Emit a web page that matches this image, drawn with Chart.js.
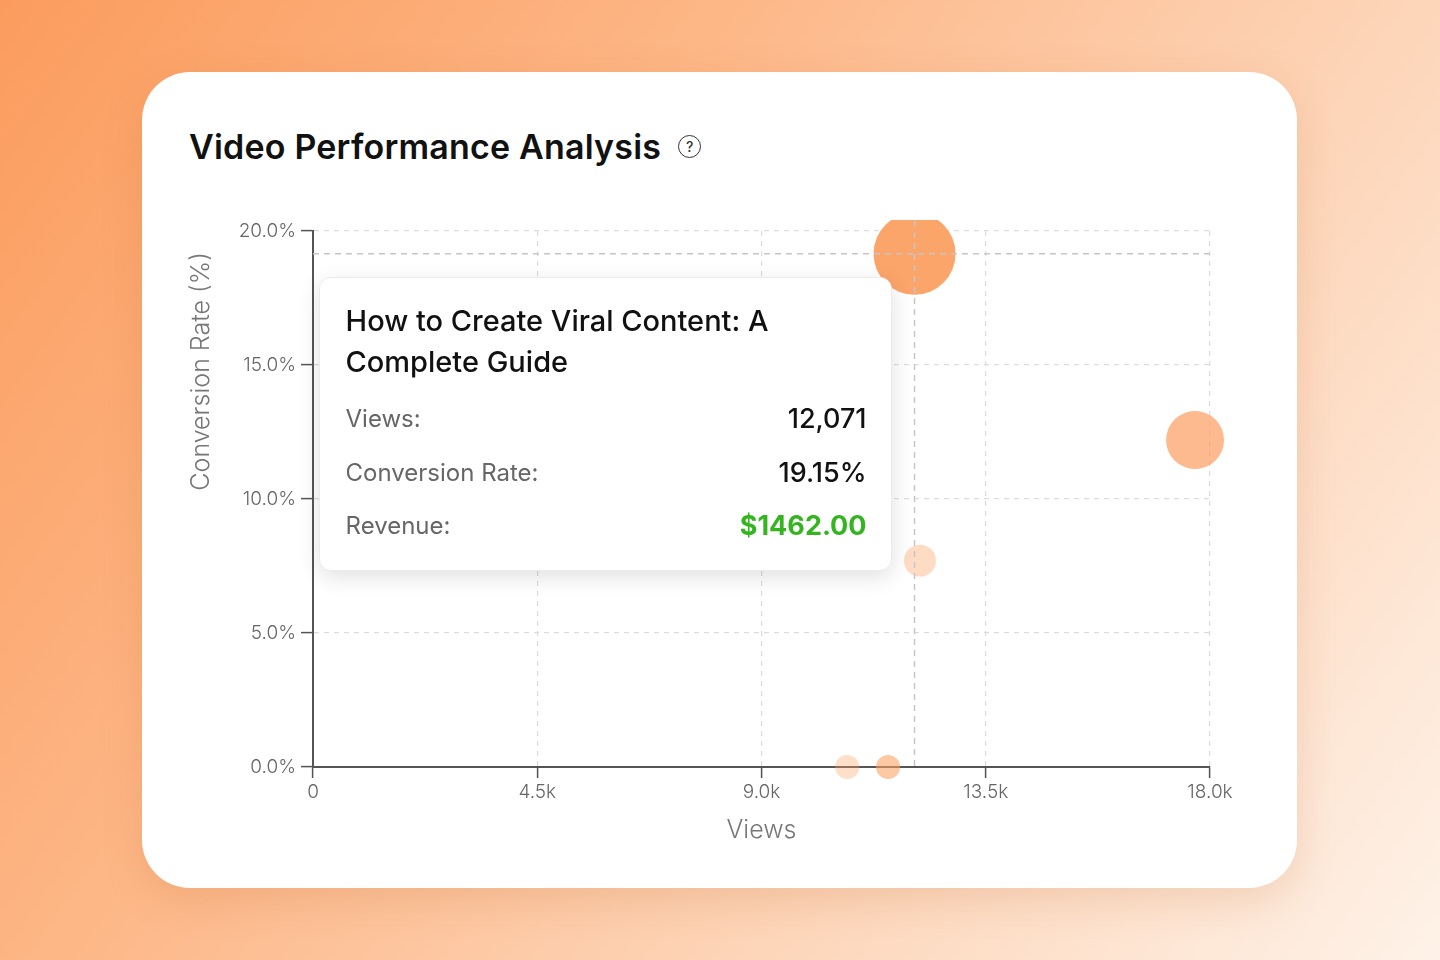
<!DOCTYPE html>
<html>
<head>
<meta charset="utf-8">
<title>Video Performance Analysis</title>
<script src="https://cdn.jsdelivr.net/npm/chart.js@4.4.0/dist/chart.umd.min.js"></script>
<style>
  html, body { margin: 0; padding: 0; width: 1440px; height: 960px; overflow: hidden; }
  body {
    font-family: Inter, "Noto Sans", sans-serif;
    background: linear-gradient(125deg, #fb9c5e 0%, #fdb787 35%, #fdd3b5 65%, #fef2e8 100%);
    position: relative;
  }
  .card {
    position: absolute; left: 142px; top: 72px; width: 1155px; height: 816px;
    background: #fff; border-radius: 48px;
    box-shadow: 0 12px 40px rgba(190, 100, 40, 0.18);
  }
  .card h1 {
    position: absolute; left: 47px; top: 54px; margin: 0;
    font-size: 34px; font-weight: 600; color: #111; letter-spacing: 0.2px;
    display: flex; align-items: center;
  }
  .help {
    display: inline-flex; align-items: center; justify-content: center;
    width: 21px; height: 21px; margin-left: 17px; border: 1.6px solid #333;
    border-radius: 50%; font-size: 14px; font-weight: 500; color: #333;
  }
  #chart { position: absolute; left: 38px; top: 133px; }
  #tip {
    position: absolute; opacity: 0; width: 573px; box-sizing: border-box;
    padding: 22px 24px 18px 26px; background: #fff; border: 1px solid #ececec;
    border-radius: 12px; box-shadow: 0 6px 22px rgba(0, 0, 0, 0.12);
    pointer-events: none; z-index: 5;
  }
  #tip .tt-title { width: 480px; font-size: 29px; font-weight: 500; line-height: 41px; color: #111; margin-bottom: 10px; }
  #tip .tt-row { display: flex; justify-content: space-between; align-items: center; height: 53.5px; }
  #tip .tt-row span { font-size: 24px; font-weight: 400; color: #666; }
  #tip .tt-row b { font-size: 27px; font-weight: 500; color: #111; }
  #tip .tt-row b.money { color: #34b51f; font-weight: 700; }
</style>
</head>
<body>
<div class="card">
  <h1>Video Performance Analysis <span class="help">?</span></h1>
  <canvas id="chart" width="1070" height="660"></canvas>
</div>
<div id="tip"></div>

<script>
// 動画ごとのデータ
const videoTitles = [
  'How to Create Viral Content: A Complete Guide',
  'Editing Tips for Short-Form Video',
  'Behind the Scenes: Studio Setup',
  'Channel Update and Q&A',
  'Weekly Vlog #12'
];
const views = [12071, 17700, 12180, 10720, 11540];
const conversionRates = [19.15, 12.2, 7.7, 0, 0];
const revenue = [1462, 1034, 570, 430, 430];

// 目盛り
const xTicks = [0, 4500, 9000, 13500, 18000];
const xTickLabels = ['0', '4.5k', '9.0k', '13.5k', '18.0k'];
const yTicks = [0, 5, 10, 15, 20];
const yTickLabels = ['0.0%', '5.0%', '10.0%', '15.0%', '20.0%'];

// バブルの色
const bubbleColors = [
  'rgba(252, 160, 98, 0.95)',
  'rgba(252, 160, 98, 0.72)',
  'rgba(252, 160, 98, 0.38)',
  'rgba(252, 160, 98, 0.34)',
  'rgba(252, 160, 98, 0.58)'
];

const maxRadius = 41;
const maxRevenue = Math.max(...revenue);

const bubbleData = views.map((v, i) => ({
  x: v,
  y: conversionRates[i],
  r: revenue[i] / maxRevenue * maxRadius
}));

// クロスヘア描画プラグイン
const crosshair = {
  id: 'crosshair',
  afterDatasetsDraw(chart) {
    const active = chart.getActiveElements();
    if (!active.length) return;
    const { x, y } = active[0].element;
    const { left, right, top, bottom } = chart.chartArea;
    const ctx = chart.ctx;
    ctx.save();
    ctx.setLineDash([6, 5]);
    ctx.strokeStyle = '#c6c6c6';
    ctx.lineWidth = 1.5;
    ctx.beginPath();
    ctx.moveTo(x, top - 10);
    ctx.lineTo(x, bottom);
    ctx.moveTo(left, y);
    ctx.lineTo(right, y);
    ctx.stroke();
    ctx.restore();
  }
};

// HTMLツールチップ
function externalTooltip(context) {
  const { chart, tooltip } = context;
  const el = document.getElementById('tip');
  if (tooltip.opacity === 0 || !tooltip.dataPoints || !tooltip.dataPoints.length) {
    el.style.opacity = 0;
    return;
  }
  const i = tooltip.dataPoints[0].dataIndex;
  el.innerHTML =
    '<div class="tt-title">' + videoTitles[i] + '</div>' +
    '<div class="tt-row"><span>Views:</span><b>' + views[i].toLocaleString('en-US') + '</b></div>' +
    '<div class="tt-row"><span>Conversion Rate:</span><b>' + conversionRates[i].toFixed(2) + '%</b></div>' +
    '<div class="tt-row"><span>Revenue:</span><b class="money">$' + revenue[i].toFixed(2) + '</b></div>';
  const rect = chart.canvas.getBoundingClientRect();
  el.style.opacity = 1;
  el.style.left = (rect.left + tooltip.caretX - 23 - el.offsetWidth) + 'px';
  el.style.top = (rect.top + tooltip.caretY + 23) + 'px';
}

const tickFont = { family: 'Inter, "Noto Sans", sans-serif', size: 19, weight: '300' };
const titleFont = { family: 'Inter, "Noto Sans", sans-serif', size: 25, weight: '300' };

const chart = new Chart(document.getElementById('chart'), {
  type: 'bubble',
  data: {
    datasets: [{
      label: 'Videos',
      data: bubbleData,
      backgroundColor: bubbleColors,
      hoverBackgroundColor: bubbleColors,
      borderWidth: 0,
      hoverBorderWidth: 0,
      hoverRadius: 0,
      clip: { top: 11, left: false, right: false, bottom: false }
    }]
  },
  options: {
    responsive: false,
    animation: false,
    events: [],
    layout: { autoPadding: false, padding: { top: 26, right: 40, left: 0, bottom: 0 } },
    plugins: {
      legend: { display: false },
      tooltip: { enabled: false, external: externalTooltip }
    },
    scales: {
      x: {
        type: 'linear',
        min: 0,
        max: 18000,
        afterBuildTicks: (scale) => { scale.ticks = xTicks.map(v => ({ value: v })); },
        afterFit: (scale) => { scale.height = 98; },
        ticks: {
          color: '#666',
          font: tickFont,
          padding: 3,
          maxRotation: 0,
          callback: (value) => xTickLabels[xTicks.indexOf(value)]
        },
        grid: { color: '#dcdcdc', lineWidth: 1.2, tickColor: '#555', tickLength: 11, tickWidth: 1.5 },
        border: { color: '#555', width: 2, dash: [5, 5] },
        title: { display: true, text: 'Views', color: '#777', font: titleFont, padding: { top: 0, bottom: 20 } }
      },
      y: {
        type: 'linear',
        min: 0,
        max: 20,
        afterBuildTicks: (scale) => { scale.ticks = yTicks.map(v => ({ value: v })); },
        afterFit: (scale) => { scale.width = 133; },
        ticks: {
          color: '#666',
          font: tickFont,
          padding: 5,
          callback: (value) => yTickLabels[yTicks.indexOf(value)]
        },
        grid: { color: '#dcdcdc', lineWidth: 1.2, tickColor: '#555', tickLength: 12, tickWidth: 1.5 },
        border: { color: '#555', width: 2, dash: [5, 5] },
        title: { display: true, text: 'Conversion Rate (%)   ', color: '#777', font: titleFont, align: 'end', padding: { top: 6, bottom: 0 } }
      }
    }
  },
  plugins: [crosshair]
});

// 1本目の動画をホバー状態で表示
const activeEls = [{ datasetIndex: 0, index: 0 }];
chart.setActiveElements(activeEls);
chart.tooltip.setActiveElements(activeEls, { x: 0, y: 0 });
chart.update('none');
</script>
</body>
</html>
